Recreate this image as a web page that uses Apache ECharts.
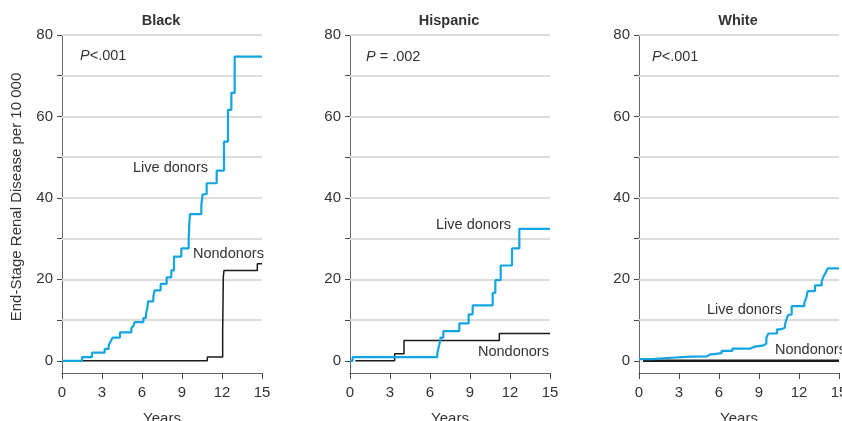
<!DOCTYPE html>
<html><head><meta charset="utf-8">
<script src="https://cdn.jsdelivr.net/npm/echarts@6/dist/echarts.min.js"></script>
<style>html,body{margin:0;padding:0;background:#fff}#c{width:842px;height:421px}</style>
</head><body><div id="c"></div>
<script>
// ---- data ----
const panels = ["Black", "Hispanic", "White"];
const pLabels = ["<.001", " = .002", "<.001"];
const xTicks = [0, 3, 6, 9, 12, 15];
const yTickValues = [0, 10, 20, 30, 40, 50, 60, 70, 80];
const yLabelValues = [0, 20, 40, 60, 80];

const blackLiveT = [0, 1.5, 2.25, 3.2, 3.5, 3.65, 3.8, 4.35, 5.2, 5.35, 5.45, 6.1, 6.3, 6.4, 6.45, 6.85, 6.95, 7.4, 7.85, 8.2, 8.4, 8.95, 9.5, 9.53, 9.55, 9.6, 10.45, 10.55, 10.85, 11.6, 12.15, 12.45, 12.7, 12.95, 15];
const blackLiveV = [0, 0.9, 2.0, 2.9, 3.8, 4.8, 5.7, 7.0, 8.0, 8.6, 9.5, 10.5, 11.5, 13.0, 14.6, 15.8, 17.3, 18.9, 20.5, 22.2, 25.6, 27.6, 29.8, 31.8, 34.0, 36.0, 38.3, 40.9, 43.6, 46.7, 53.8, 61.6, 65.8, 74.7, 74.7];
const blackNonT = [0, 10.9, 12.05, 12.1, 12.15, 14.65, 15];
const blackNonV = [0, 0.9, 7.4, 20.7, 22.2, 23.8, 23.8];

const hispLiveT = [0, 0.2, 6.55, 6.7, 6.8, 7.0, 8.2, 8.9, 9.2, 10.7, 10.9, 11.3, 12.15, 12.7, 15];
const hispLiveV = [0, 0.9, 1.9, 4.0, 5.7, 7.3, 9.2, 11.4, 13.6, 16.7, 19.8, 23.4, 27.6, 32.4, 32.4];
const hispNonT = [0.4, 3.35, 4.05, 11.2, 15];
const hispNonV = [0, 1.7, 5.0, 6.7, 6.7];

const whiteLiveT = [0, 1.0, 2.7, 3.9, 5.1, 5.3, 6.2, 7.0, 8.35, 8.6, 9.35, 9.55, 9.7, 10.35, 10.6, 10.95, 11.05, 11.2, 11.45, 12.4, 12.55, 12.65, 13.2, 13.7, 13.85, 14.0, 14.15, 15];
const whiteLiveV = [0.4, 0.8, 1.0, 1.1, 1.5, 1.9, 2.45, 3.0, 3.4, 3.8, 4.2, 5.6, 6.7, 7.7, 8.1, 8.9, 10.1, 11.3, 13.4, 14.2, 15.5, 17.1, 18.5, 19.5, 20.8, 21.6, 22.7, 22.7];
const whiteNonT = [0.3, 15];
const whiteNonV = [0, 0];

// ---- build ----
const zip = (t, v) => t.map((x, i) => [x, v[i]]);
const liveData = [zip(blackLiveT, blackLiveV), zip(hispLiveT, hispLiveV), zip(whiteLiveT, whiteLiveV)];
const nonData = [zip(blackNonT, blackNonV), zip(hispNonT, hispNonV), zip(whiteNonT, whiteNonV)];

const FONT = '"Liberation Sans", Arial, sans-serif';
const TXT = '#333';
const BLUE = '#12a5e2';
const lefts = [62, 350, 639];
const W = 200, TOP = 35, H = 338;

const grids = [], xAxes = [], yAxes = [], series = [], titles = [];
panels.forEach((name, i) => {
  grids.push({left: lefts[i], top: TOP, width: W, height: H, containLabel: false, outerBoundsMode: 'none'});
  titles.push({text: name, left: lefts[i] + W / 2 - 6, top: 8, textAlign: 'center',
    textStyle: {fontFamily: FONT, fontSize: 14.5, fontWeight: 'bold', color: TXT}});
  xAxes.push({gridIndex: i, type: 'value', min: 0, max: 15, interval: 3,
    name: 'Years', nameLocation: 'middle', nameGap: 38,
    nameTextStyle: {fontFamily: FONT, fontSize: 15, color: TXT},
    axisLine: {onZero: false, lineStyle: {color: '#666', width: 1}},
    axisTick: {show: true, length: 6, lineStyle: {color: '#444'}},
    axisLabel: {fontFamily: FONT, fontSize: 15, color: TXT, margin: 12},
    splitLine: {show: false}});
  yAxes.push({gridIndex: i, type: 'value', min: -3, max: 80,
    name: i === 0 ? 'End-Stage Renal Disease per 10 000' : '',
    nameLocation: 'middle', nameGap: 38, nameRotate: 90,
    nameTextStyle: {fontFamily: FONT, fontSize: 15, color: TXT, padding: [0, 0, 0, 14]},
    axisLine: {show: true, lineStyle: {color: '#666', width: 1}},
    axisTick: {show: true, length: 5, customValues: yTickValues, lineStyle: {color: '#444'}},
    axisLabel: {fontFamily: FONT, fontSize: 15, color: TXT, margin: 9, customValues: yLabelValues},
    splitLine: {show: false}});
  series.push({type: 'line', xAxisIndex: i, yAxisIndex: i, step: 'end', symbol: 'none',
    clip: false, data: nonData[i], z: 3,
    lineStyle: {color: '#1a1a1a', width: i === 2 ? 2.6 : 1.5},
    markLine: {silent: true, symbol: 'none', label: {show: false}, z: 1,
      lineStyle: {color: '#dcdcdc', width: 2, type: 'solid'},
      data: yTickValues.filter(v => v > 0).map(v => ({yAxis: v}))}});
  series.push({type: 'line', xAxisIndex: i, yAxisIndex: i, step: 'end', symbol: 'none',
    clip: false, data: liveData[i], z: 4,
    lineStyle: {color: BLUE, width: 2.2}});
});

const ann = [
  {rich: true, text: '{i|P}' + pLabels[0], x: 80, y: 57},
  {text: 'Live donors', x: 133, y: 169},
  {text: 'Nondonors', x: 193, y: 255},
  {rich: true, text: '{i|P}' + pLabels[1], x: 366, y: 58},
  {text: 'Live donors', x: 436, y: 226},
  {text: 'Nondonors', x: 478, y: 353},
  {rich: true, text: '{i|P}' + pLabels[2], x: 652, y: 58},
  {text: 'Live donors', x: 707, y: 311},
  {text: 'Nondonors', x: 775, y: 351}
];
const graphic = ann.map(a => ({type: 'text', left: a.x, top: a.y - 9, z: 10,
  style: {text: a.text, fill: TXT, font: '14.5px ' + FONT,
    rich: {i: {fontStyle: 'italic', fontFamily: FONT, fontSize: 14.5, fill: TXT}}}}));

const chart = echarts.init(document.getElementById('c'), null, {renderer: 'canvas'});
chart.setOption({animation: false, backgroundColor: '#fff', title: titles, grid: grids,
  xAxis: xAxes, yAxis: yAxes, series: series, graphic: graphic});
</script></body></html>
